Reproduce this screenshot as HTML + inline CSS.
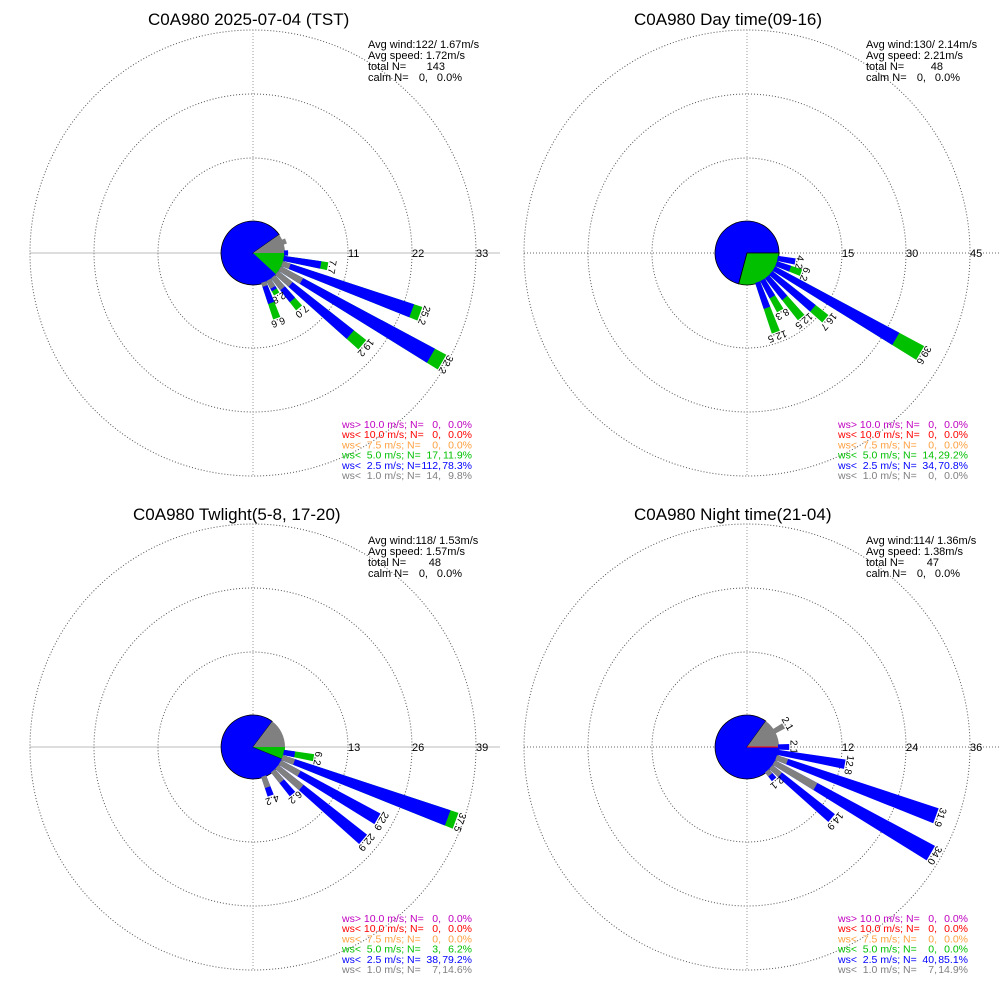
<!DOCTYPE html>
<html><head><meta charset="utf-8"><style>
html,body{margin:0;padding:0;background:#fff}
svg{display:block;font-family:"Liberation Sans",sans-serif}
text{white-space:pre}
</style></head><body>
<svg width="1000" height="1000" viewBox="0 0 1000 1000" xmlns="http://www.w3.org/2000/svg" xml:space="preserve">
<defs>
<clipPath id="tp" clipPathUnits="userSpaceOnUse"><polygon points="-1.6,0 1.6,0 9.2,-240 -9.2,-240"/></clipPath>
</defs>
<rect width="1000" height="1000" fill="#fff"/>

<!-- ========== TOP LEFT ========== -->
<g transform="translate(253,253)">
<g fill="none" stroke="#555" stroke-dasharray="1,2">
<circle r="95"/><circle r="159"/><circle r="223"/>
<line x1="0" y1="-223" x2="0" y2="223" stroke="#999"/>
</g>
<line x1="-223" y1="0" x2="247" y2="0" stroke="#bbb"/>
<g font-size="11" fill="#000"><text x="95" y="4">11</text><text x="159" y="4">22</text><text x="223" y="4">33</text></g>
<path d="M0,0 L32,0 A32,32 0 1 1 26.2,-18.4 Z" fill="#0000ff" stroke="#000" stroke-width="0.8"/>
<path d="M0,0 L26.2,-18.4 A32,32 0 0 1 32,0 Z" fill="#808080"/>
<path d="M0,0 L32,0 A32,32 0 0 1 23.4,21.8 Z" fill="#00c000"/>
<g font-size="10" text-anchor="middle">
<g transform="rotate(70)" clip-path="url(#tp)"><rect x="-10" y="-35.1" width="20" height="4" fill="#808080"/></g>
<g transform="rotate(90)" clip-path="url(#tp)"><rect x="-10" y="-35.1" width="20" height="4" fill="#0000ff"/></g>
<g transform="rotate(100)"><g clip-path="url(#tp)"><rect x="-10" y="-75.8" width="20" height="44.8" fill="#00c000"/><rect x="-10" y="-68.8" width="20" height="37.8" fill="#0000ff"/></g><text y="-77">7.7</text></g>
<g transform="rotate(110)"><g clip-path="url(#tp)"><rect x="-10" y="-177.6" width="20" height="146.6" fill="#00c000"/><rect x="-10" y="-168.9" width="20" height="137.9" fill="#0000ff"/><rect x="-10" y="-39.1" width="20" height="8.1" fill="#808080"/></g><text y="-179">25.2</text></g>
<g transform="rotate(120)"><g clip-path="url(#tp)"><rect x="-10" y="-218.3" width="20" height="187.3" fill="#00c000"/><rect x="-10" y="-205.5" width="20" height="174.5" fill="#0000ff"/><rect x="-10" y="-56" width="20" height="25" fill="#808080"/></g><text y="-219.5">32.2</text></g>
<g transform="rotate(130)"><g clip-path="url(#tp)"><rect x="-10" y="-142.7" width="20" height="111.7" fill="#00c000"/><rect x="-10" y="-127" width="20" height="96" fill="#0000ff"/><rect x="-10" y="-49" width="20" height="18" fill="#808080"/></g><text y="-144">19.2</text></g>
<g transform="rotate(140)"><g clip-path="url(#tp)"><rect x="-10" y="-71.7" width="20" height="40.7" fill="#00c000"/><rect x="-10" y="-61.3" width="20" height="30.3" fill="#0000ff"/><rect x="-10" y="-46.1" width="20" height="15.1" fill="#808080"/></g><text y="-73">7.0</text></g>
<g transform="rotate(150)"><g clip-path="url(#tp)"><rect x="-10" y="-47.3" width="20" height="16.3" fill="#00c000"/><rect x="-10" y="-42.6" width="20" height="11.6" fill="#0000ff"/><rect x="-10" y="-39.7" width="20" height="8.7" fill="#808080"/></g><text y="-48.5">2.8</text></g>
<g transform="rotate(160)"><g clip-path="url(#tp)"><rect x="-10" y="-69.4" width="20" height="38.4" fill="#00c000"/><rect x="-10" y="-53.1" width="20" height="22.1" fill="#0000ff"/><rect x="-10" y="-35.1" width="20" height="4.1" fill="#808080"/></g><text y="-70.5">6.6</text></g>
</g>
</g>
<text x="148" y="25" font-size="17">C0A980 2025-07-04 (TST)</text>
<g font-size="11">
<text x="368" y="48">Avg wind:122/ 1.67m/s</text>
<text x="368" y="59">Avg speed: 1.72m/s</text>
<text x="368" y="70">total N=<tspan x="445" text-anchor="end">143</tspan></text>
<text x="368" y="81">calm N=<tspan x="428" text-anchor="end">0,</tspan><tspan x="462" text-anchor="end">0.0%</tspan></text>
</g>
<g font-size="10.5">
<text x="342" y="428" fill="#c000c0">ws&gt; 10.0 m/s; N=<tspan x="441" text-anchor="end">0,</tspan><tspan x="472" text-anchor="end">0.0%</tspan></text>
<text x="342" y="438.2" fill="#ff0000">ws&lt; 10.0 m/s; N=<tspan x="441" text-anchor="end">0,</tspan><tspan x="472" text-anchor="end">0.0%</tspan></text>
<text x="342" y="448.4" fill="#ffa040">ws&lt;  7.5 m/s; N=<tspan x="441" text-anchor="end">0,</tspan><tspan x="472" text-anchor="end">0.0%</tspan></text>
<text x="342" y="458.6" fill="#00c000">ws&lt;  5.0 m/s; N=<tspan x="441" text-anchor="end">17,</tspan><tspan x="472" text-anchor="end">11.9%</tspan></text>
<text x="342" y="468.8" fill="#0000ff">ws&lt;  2.5 m/s; N=<tspan x="441" text-anchor="end">112,</tspan><tspan x="472" text-anchor="end">78.3%</tspan></text>
<text x="342" y="479" fill="#808080">ws&lt;  1.0 m/s; N=<tspan x="441" text-anchor="end">14,</tspan><tspan x="472" text-anchor="end">9.8%</tspan></text>
</g>

<!-- ========== TOP RIGHT ========== -->
<g transform="translate(747,253)">
<g fill="none" stroke="#555" stroke-dasharray="1,2">
<circle r="95"/><circle r="159"/><circle r="223"/>
<line x1="0" y1="-223" x2="0" y2="223" stroke="#999"/>
<line x1="-223" y1="0" x2="253" y2="0" stroke="#666"/>
</g>
<g font-size="11" fill="#000"><text x="95" y="4">15</text><text x="159" y="4">30</text><text x="223" y="4">45</text></g>
<path d="M0,0 L32,0 A32,32 0 1 0 -8.3,30.9 Z" fill="#0000ff" stroke="#000" stroke-width="0.8"/>
<path d="M0,0 L32,0 A32,32 0 0 1 -8.3,30.9 Z" fill="#00c000" stroke="#000" stroke-width="0.8"/>
<g font-size="10" text-anchor="middle">
<g transform="rotate(100)"><g clip-path="url(#tp)"><rect x="-10" y="-48.9" width="20" height="17.9" fill="#0000ff"/></g><text y="-50">4.2</text></g>
<g transform="rotate(110)"><g clip-path="url(#tp)"><rect x="-10" y="-57.5" width="20" height="26.5" fill="#00c000"/><rect x="-10" y="-45.9" width="20" height="14.9" fill="#0000ff"/></g><text y="-58.5">6.2</text></g>
<g transform="rotate(120)"><g clip-path="url(#tp)"><rect x="-10" y="-200" width="20" height="169" fill="#00c000"/><rect x="-10" y="-171.8" width="20" height="140.8" fill="#0000ff"/></g><text y="-201">39.6</text></g>
<g transform="rotate(130)"><g clip-path="url(#tp)"><rect x="-10" y="-102.3" width="20" height="71.3" fill="#00c000"/><rect x="-10" y="-86" width="20" height="55" fill="#0000ff"/></g><text y="-103.5">16.7</text></g>
<g transform="rotate(140)"><g clip-path="url(#tp)"><rect x="-10" y="-84.3" width="20" height="53.3" fill="#00c000"/><rect x="-10" y="-58.7" width="20" height="27.7" fill="#0000ff"/></g><text y="-85.5">12.5</text></g>
<g transform="rotate(150)"><g clip-path="url(#tp)"><rect x="-10" y="-66.4" width="20" height="35.4" fill="#00c000"/><rect x="-10" y="-50.6" width="20" height="19.6" fill="#0000ff"/></g><text y="-67.5">8.3</text></g>
<g transform="rotate(160)"><g clip-path="url(#tp)"><rect x="-10" y="-84.3" width="20" height="53.3" fill="#00c000"/><rect x="-10" y="-58.3" width="20" height="27.3" fill="#0000ff"/></g><text y="-85.5">12.5</text></g>
</g>
</g>
<text x="634" y="25" font-size="17">C0A980 Day time(09-16)</text>
<g font-size="11">
<text x="866" y="48">Avg wind:130/ 2.14m/s</text>
<text x="866" y="59">Avg speed: 2.21m/s</text>
<text x="866" y="70">total N=<tspan x="943" text-anchor="end">48</tspan></text>
<text x="866" y="81">calm N=<tspan x="926" text-anchor="end">0,</tspan><tspan x="960" text-anchor="end">0.0%</tspan></text>
</g>
<g font-size="10.5">
<text x="838" y="428" fill="#c000c0">ws&gt; 10.0 m/s; N=<tspan x="937" text-anchor="end">0,</tspan><tspan x="968" text-anchor="end">0.0%</tspan></text>
<text x="838" y="438.2" fill="#ff0000">ws&lt; 10.0 m/s; N=<tspan x="937" text-anchor="end">0,</tspan><tspan x="968" text-anchor="end">0.0%</tspan></text>
<text x="838" y="448.4" fill="#ffa040">ws&lt;  7.5 m/s; N=<tspan x="937" text-anchor="end">0,</tspan><tspan x="968" text-anchor="end">0.0%</tspan></text>
<text x="838" y="458.6" fill="#00c000">ws&lt;  5.0 m/s; N=<tspan x="937" text-anchor="end">14,</tspan><tspan x="968" text-anchor="end">29.2%</tspan></text>
<text x="838" y="468.8" fill="#0000ff">ws&lt;  2.5 m/s; N=<tspan x="937" text-anchor="end">34,</tspan><tspan x="968" text-anchor="end">70.8%</tspan></text>
<text x="838" y="479" fill="#808080">ws&lt;  1.0 m/s; N=<tspan x="937" text-anchor="end">0,</tspan><tspan x="968" text-anchor="end">0.0%</tspan></text>
</g>

<!-- ========== BOTTOM LEFT ========== -->
<g transform="translate(253,747)">
<g fill="none" stroke="#555" stroke-dasharray="1,2">
<circle r="95"/><circle r="159"/><circle r="223"/>
<line x1="0" y1="-223" x2="0" y2="223" stroke="#999"/>
</g>
<line x1="-223" y1="0" x2="247" y2="0" stroke="#bbb"/>
<g font-size="11" fill="#000"><text x="95" y="4">13</text><text x="159" y="4">26</text><text x="223" y="4">39</text></g>
<path d="M0,0 L29.7,12.0 A32,32 0 1 1 19.3,-25.6 Z" fill="#0000ff" stroke="#000" stroke-width="0.8"/>
<path d="M0,0 L19.3,-25.6 A32,32 0 0 1 32,0 Z" fill="#808080"/>
<path d="M0,0 L32,0 A32,32 0 0 1 29.7,12.0 Z" fill="#00c000"/>
<g font-size="10" text-anchor="middle">
<g transform="rotate(100)"><g clip-path="url(#tp)"><rect x="-10" y="-61.5" width="20" height="30.5" fill="#00c000"/><rect x="-10" y="-42.3" width="20" height="11.3" fill="#0000ff"/></g><text y="-62.5">6.2</text></g>
<g transform="rotate(110)"><g clip-path="url(#tp)"><rect x="-10" y="-215.6" width="20" height="184.6" fill="#00c000"/><rect x="-10" y="-207.2" width="20" height="176.2" fill="#0000ff"/><rect x="-10" y="-43.8" width="20" height="12.8" fill="#808080"/></g><text y="-217">37.5</text></g>
<g transform="rotate(120)"><g clip-path="url(#tp)"><rect x="-10" y="-143.7" width="20" height="112.7" fill="#0000ff"/><rect x="-10" y="-53.2" width="20" height="22.2" fill="#808080"/></g><text y="-145">22.9</text></g>
<g transform="rotate(130)"><g clip-path="url(#tp)"><rect x="-10" y="-143.7" width="20" height="112.7" fill="#0000ff"/><rect x="-10" y="-63" width="20" height="32" fill="#808080"/></g><text y="-145">22.9</text></g>
<g transform="rotate(140)"><g clip-path="url(#tp)"><rect x="-10" y="-61.5" width="20" height="30.5" fill="#0000ff"/><rect x="-10" y="-44.8" width="20" height="13.8" fill="#808080"/></g><text y="-62.5">6.2</text></g>
<g transform="rotate(160)"><g clip-path="url(#tp)"><rect x="-10" y="-51.7" width="20" height="20.7" fill="#0000ff"/><rect x="-10" y="-42.8" width="20" height="11.8" fill="#808080"/></g><text y="-53">4.2</text></g>
</g>
</g>
<text x="133" y="520" font-size="17">C0A980 Twlight(5-8, 17-20)</text>
<g font-size="11">
<text x="368" y="544">Avg wind:118/ 1.53m/s</text>
<text x="368" y="555">Avg speed: 1.57m/s</text>
<text x="368" y="566">total N=<tspan x="441" text-anchor="end">48</tspan></text>
<text x="368" y="577">calm N=<tspan x="428" text-anchor="end">0,</tspan><tspan x="462" text-anchor="end">0.0%</tspan></text>
</g>
<g font-size="10.5">
<text x="342" y="922" fill="#c000c0">ws&gt; 10.0 m/s; N=<tspan x="441" text-anchor="end">0,</tspan><tspan x="472" text-anchor="end">0.0%</tspan></text>
<text x="342" y="932.2" fill="#ff0000">ws&lt; 10.0 m/s; N=<tspan x="441" text-anchor="end">0,</tspan><tspan x="472" text-anchor="end">0.0%</tspan></text>
<text x="342" y="942.4" fill="#ffa040">ws&lt;  7.5 m/s; N=<tspan x="441" text-anchor="end">0,</tspan><tspan x="472" text-anchor="end">0.0%</tspan></text>
<text x="342" y="952.6" fill="#00c000">ws&lt;  5.0 m/s; N=<tspan x="441" text-anchor="end">3,</tspan><tspan x="472" text-anchor="end">6.2%</tspan></text>
<text x="342" y="962.8" fill="#0000ff">ws&lt;  2.5 m/s; N=<tspan x="441" text-anchor="end">38,</tspan><tspan x="472" text-anchor="end">79.2%</tspan></text>
<text x="342" y="973" fill="#808080">ws&lt;  1.0 m/s; N=<tspan x="441" text-anchor="end">7,</tspan><tspan x="472" text-anchor="end">14.6%</tspan></text>
</g>

<!-- ========== BOTTOM RIGHT ========== -->
<g transform="translate(747,747)">
<g fill="none" stroke="#555" stroke-dasharray="1,2">
<circle r="95"/><circle r="159"/><circle r="223"/>
<line x1="0" y1="-223" x2="0" y2="223" stroke="#999"/>
<line x1="-223" y1="0" x2="253" y2="0" stroke="#666"/>
</g>
<g font-size="11" fill="#000"><text x="95" y="4">12</text><text x="159" y="4">24</text><text x="223" y="4">36</text></g>
<path d="M0,0 L32,0 A32,32 0 1 1 18.8,-25.9 Z" fill="#0000ff" stroke="#000" stroke-width="0.8"/>
<path d="M0,0 L18.8,-25.9 A32,32 0 0 1 32,0 Z" fill="#808080"/>
<line x1="0" y1="0" x2="32" y2="0" stroke="#ff0000"/>
<g font-size="10" text-anchor="middle">
<g transform="rotate(60)"><g clip-path="url(#tp)"><rect x="-10" y="-42.2" width="20" height="11.2" fill="#808080"/></g><text y="-43.5">2.1</text></g>
<g transform="rotate(90)"><g clip-path="url(#tp)"><rect x="-10" y="-42.2" width="20" height="11.2" fill="#0000ff"/></g><text y="-43.5">2.1</text></g>
<g transform="rotate(100)"><g clip-path="url(#tp)"><rect x="-10" y="-99.3" width="20" height="68.3" fill="#0000ff"/></g><text y="-100.5">12.8</text></g>
<g transform="rotate(110)"><g clip-path="url(#tp)"><rect x="-10" y="-201.1" width="20" height="170.1" fill="#0000ff"/><rect x="-10" y="-42.7" width="20" height="11.7" fill="#808080"/></g><text y="-202.5">31.9</text></g>
<g transform="rotate(120)"><g clip-path="url(#tp)"><rect x="-10" y="-212.3" width="20" height="181.3" fill="#0000ff"/><rect x="-10" y="-79" width="20" height="48" fill="#808080"/></g><text y="-213.5">34.0</text></g>
<g transform="rotate(130)"><g clip-path="url(#tp)"><rect x="-10" y="-110.5" width="20" height="79.5" fill="#0000ff"/><rect x="-10" y="-43.3" width="20" height="12.3" fill="#808080"/></g><text y="-112">14.9</text></g>
<g transform="rotate(140)"><g clip-path="url(#tp)"><rect x="-10" y="-42.2" width="20" height="11.2" fill="#0000ff"/><rect x="-10" y="-36.3" width="20" height="5.3" fill="#808080"/></g><text y="-43.5">2.1</text></g>
</g>
</g>
<text x="634" y="520" font-size="17">C0A980 Night time(21-04)</text>
<g font-size="11">
<text x="866" y="544">Avg wind:114/ 1.36m/s</text>
<text x="866" y="555">Avg speed: 1.38m/s</text>
<text x="866" y="566">total N=<tspan x="939" text-anchor="end">47</tspan></text>
<text x="866" y="577">calm N=<tspan x="926" text-anchor="end">0,</tspan><tspan x="960" text-anchor="end">0.0%</tspan></text>
</g>
<g font-size="10.5">
<text x="838" y="922" fill="#c000c0">ws&gt; 10.0 m/s; N=<tspan x="937" text-anchor="end">0,</tspan><tspan x="968" text-anchor="end">0.0%</tspan></text>
<text x="838" y="932.2" fill="#ff0000">ws&lt; 10.0 m/s; N=<tspan x="937" text-anchor="end">0,</tspan><tspan x="968" text-anchor="end">0.0%</tspan></text>
<text x="838" y="942.4" fill="#ffa040">ws&lt;  7.5 m/s; N=<tspan x="937" text-anchor="end">0,</tspan><tspan x="968" text-anchor="end">0.0%</tspan></text>
<text x="838" y="952.6" fill="#00c000">ws&lt;  5.0 m/s; N=<tspan x="937" text-anchor="end">0,</tspan><tspan x="968" text-anchor="end">0.0%</tspan></text>
<text x="838" y="962.8" fill="#0000ff">ws&lt;  2.5 m/s; N=<tspan x="937" text-anchor="end">40,</tspan><tspan x="968" text-anchor="end">85.1%</tspan></text>
<text x="838" y="973" fill="#808080">ws&lt;  1.0 m/s; N=<tspan x="937" text-anchor="end">7,</tspan><tspan x="968" text-anchor="end">14.9%</tspan></text>
</g>
</svg>
</body></html>
